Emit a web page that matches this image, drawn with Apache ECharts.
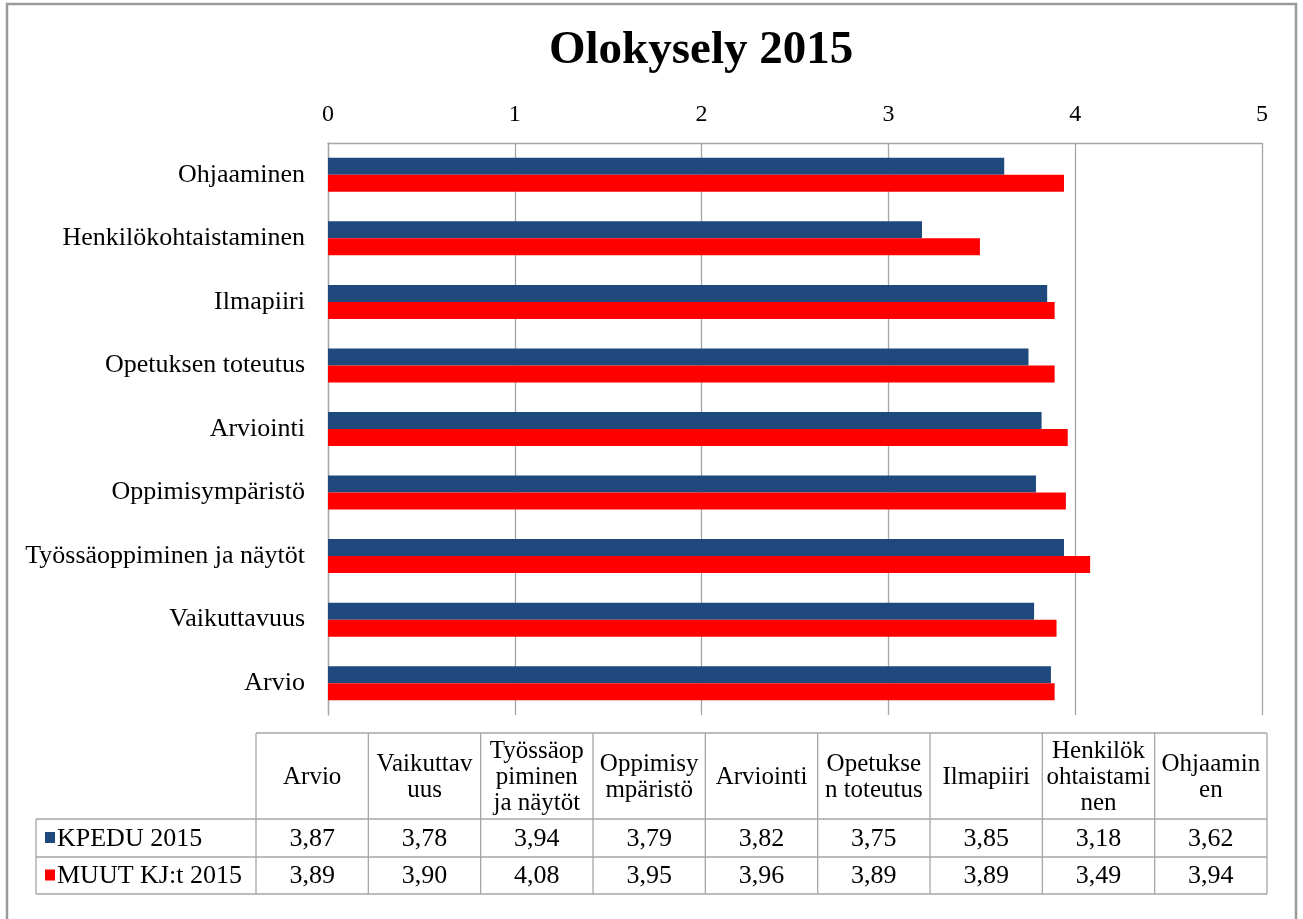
<!DOCTYPE html>
<html>
<head>
<meta charset="utf-8">
<script src="https://cdn.jsdelivr.net/npm/echarts@6/dist/echarts.min.js"></script>
<style>
html,body{margin:0;padding:0;background:#fff;}
#chart{width:1303px;height:919px;}
</style>
</head>
<body>
<div id="chart"></div>
<script>
// ---- data ----
const categories = ['Arvio','Vaikuttavuus','Työssäoppiminen ja näytöt','Oppimisympäristö','Arviointi','Opetuksen toteutus','Ilmapiiri','Henkilökohtaistaminen','Ohjaaminen'];
const headerLabels = ['Arvio','Vaikuttav\nuus','Työssäop\npiminen\nja näytöt','Oppimisy\nmpäristö','Arviointi','Opetukse\nn toteutus','Ilmapiiri','Henkilök\nohtaistami\nnen','Ohjaamin\nen'];
const seriesNames = ['KPEDU 2015','MUUT KJ:t 2015'];
const kpedu = [3.87,3.78,3.94,3.79,3.82,3.75,3.85,3.18,3.62];
const muut  = [3.89,3.90,4.08,3.95,3.96,3.89,3.89,3.49,3.94];
const titleText = 'Olokysely 2015';
const axisMin = 0, axisMax = 5, axisInterval = 1;

// ---- styles ----
const FONT = '"Liberation Serif","Times New Roman",serif';
const colors = ['#1F497D','#FF0000'];
const gridLineColor = '#a6a6a6';

const chart = echarts.init(document.getElementById('chart'), null, {renderer:'canvas'});

// table layout
const tblLeft = 36, colStart = 256, colRight = 1267;
const colW = (colRight - colStart) / categories.length;
const hdrTop = 733, hdrBot = 819, row1Bot = 857, row2Bot = 894;
const rowsData = [kpedu, muut];
const rowTops = [hdrBot, row1Bot];
const rowBots = [row1Bot, row2Bot];
const fmt = v => v.toFixed(2).replace('.', ',');

const graphics = [];
// outer border
graphics.push({type:'rect', shape:{x:7,y:4,width:1289,height:925}, style:{fill:'none', stroke:'#9a9a9a', lineWidth:2.5}, silent:true});
const lineStyle = {stroke:'#a6a6a6', lineWidth:1.3};
graphics.push({type:'line', shape:{x1:colStart,y1:hdrTop,x2:colRight,y2:hdrTop}, style:lineStyle});
[hdrBot,row1Bot,row2Bot].forEach(y=>{
  graphics.push({type:'line', shape:{x1:tblLeft,y1:y,x2:colRight,y2:y}, style:lineStyle});
});
graphics.push({type:'line', shape:{x1:tblLeft,y1:hdrBot,x2:tblLeft,y2:row2Bot}, style:lineStyle});
for (let i=0;i<=categories.length;i++){
  const x = colStart + i*colW;
  graphics.push({type:'line', shape:{x1:x,y1:hdrTop,x2:x,y2:row2Bot}, style:lineStyle});
}
headerLabels.forEach((t,i)=>{
  graphics.push({type:'text', x: colStart + (i+0.5)*colW, y:(hdrTop+hdrBot)/2 + 1,
    style:{text:t, font:'25px '+FONT, fill:'#000', align:'center', verticalAlign:'middle', lineHeight:26}});
});
rowsData.forEach((arr,r)=>{
  const cy = (rowTops[r]+rowBots[r])/2;
  graphics.push({type:'rect', shape:{x:45,y:cy-6,width:10,height:11}, style:{fill:colors[r]}});
  graphics.push({type:'text', x:57, y:cy+1,
    style:{text:seriesNames[r], font:'26px '+FONT, fill:'#000', align:'left', verticalAlign:'middle'}});
  arr.forEach((v,i)=>{
    graphics.push({type:'text', x: colStart + (i+0.5)*colW, y:cy+1,
      style:{text:fmt(v), font:'26px '+FONT, fill:'#000', align:'center', verticalAlign:'middle'}});
  });
});

const option = {
  backgroundColor:'#fff',
  animation:false,
  title:{text:titleText, left:544, top:22,
    textStyle:{fontFamily:FONT, fontSize:47, fontWeight:'bold', color:'#000'}},
  grid:{left:328, right:1303-1262, top:143, height:572, containLabel:false},
  xAxis:{type:'value', position:'top', min:axisMin, max:axisMax, interval:axisInterval,
    axisLine:{show:true, lineStyle:{color:gridLineColor, width:1.3}},
    axisTick:{show:false},
    axisLabel:{margin:16, fontFamily:FONT, fontSize:24, color:'#000'},
    splitLine:{show:true, lineStyle:{color:gridLineColor, width:1.3}}},
  yAxis:{type:'category', data:categories,
    axisLine:{show:true, lineStyle:{color:gridLineColor, width:1.3}},
    axisTick:{show:false},
    axisLabel:{margin:23, fontFamily:FONT, fontSize:26, color:'#000'}},
  series:[
    {name:seriesNames[0], type:'bar', data:kpedu, barWidth:17, barGap:'0%', itemStyle:{color:colors[0]}},
    {name:seriesNames[1], type:'bar', data:muut, barWidth:17, barGap:'0%', itemStyle:{color:colors[1]}}
  ],
  graphic:{elements:graphics}
};
chart.setOption(option);
</script>
</body>
</html>
